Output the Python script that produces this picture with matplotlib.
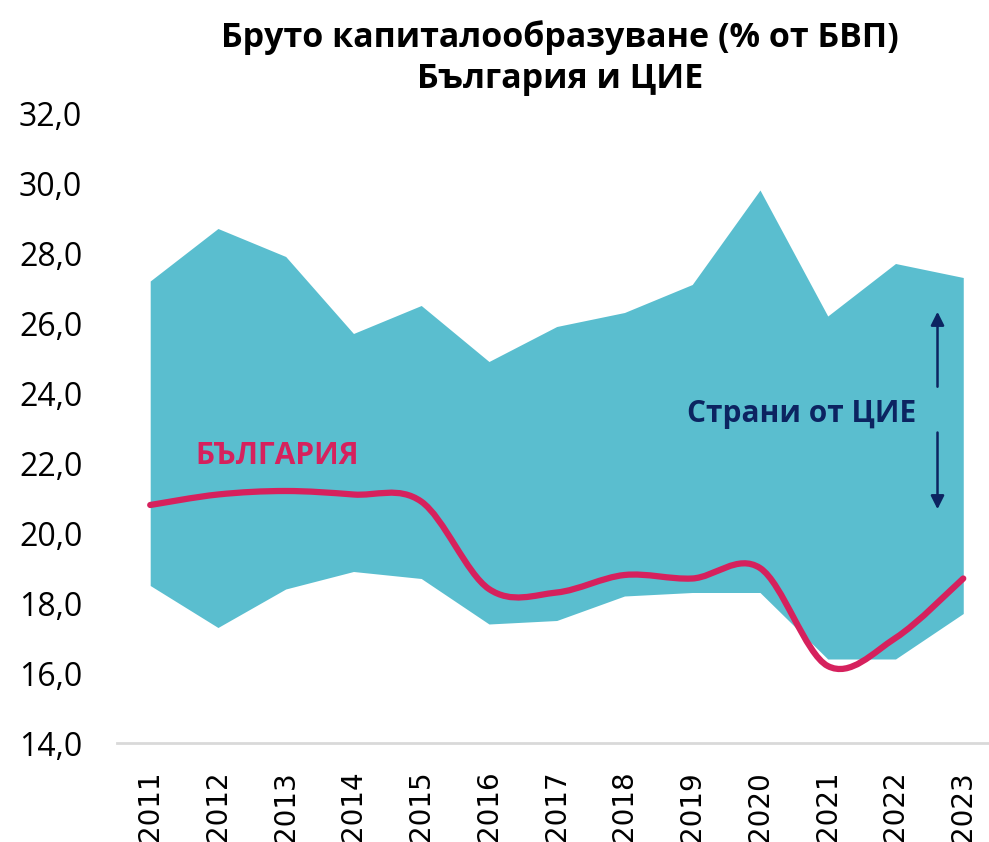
import matplotlib as mpl
mpl.use('Agg')
import matplotlib.pyplot as plt
from matplotlib.path import Path
from matplotlib.patches import PathPatch

# data
years = [2011, 2012, 2013, 2014, 2015, 2016, 2017, 2018, 2019, 2020, 2021, 2022, 2023]
cee_max = [27.2, 28.7, 27.9, 25.7, 26.5, 24.9, 25.9, 26.3, 27.1, 29.8, 26.2, 27.7, 27.3]
cee_min = [18.5, 17.3, 18.4, 18.9, 18.7, 17.4, 17.5, 18.2, 18.3, 18.3, 16.4, 16.4, 17.7]
bulgaria = [20.8, 21.1, 21.2, 21.1, 20.9, 18.4, 18.3, 18.8, 18.7, 19.0, 16.2, 17.0, 18.7]
yticks = [14, 16, 18, 20, 22, 24, 26, 28, 30, 32]

fill_col = '#5abecf'
line_col = '#d6215d'
navy = '#0c2461'

fig = plt.figure(figsize=(9.89, 8.42), dpi=100)
ax = fig.add_axes([117 / 989, 1 - 743 / 842, 1 - 117 / 989, (743 - 113) / 842])

ax.fill_between(years, cee_min, cee_max, color=fill_col, lw=0)

# smoothed line like excel (bezier through the points)
n = len(years)
verts = [(years[0], bulgaria[0])]
codes = [Path.MOVETO]
for i in range(n - 1):
    p0 = (years[max(i - 1, 0)], bulgaria[max(i - 1, 0)])
    p1 = (years[i], bulgaria[i])
    p2 = (years[i + 1], bulgaria[i + 1])
    p3 = (years[min(i + 2, n - 1)], bulgaria[min(i + 2, n - 1)])
    c1 = (p1[0] + (p2[0] - p0[0]) / 6, p1[1] + (p2[1] - p0[1]) / 6)
    c2 = (p2[0] - (p3[0] - p1[0]) / 6, p2[1] - (p3[1] - p1[1]) / 6)
    verts += [c1, c2, p2]
    codes += [Path.CURVE4] * 3
ax.add_patch(PathPatch(Path(verts, codes), fill=False, edgecolor=line_col, lw=4.5,
                       capstyle='round', joinstyle='round'))

ax.set_xlim(2010.51, 2023.38)
ax.set_ylim(14, 32)
ax.set_yticks(yticks)
ax.set_yticklabels([f'{v:.1f}'.replace('.', ',') for v in yticks],
                   fontfamily='Open Sans', fontsize=23)
ax.set_xticks(years)
ax.set_xticklabels([str(y) for y in years], rotation=90, fontfamily='DejaVu Sans',
                   fontsize=20, va='top')
ax.tick_params(axis='y', length=0, pad=25)
ax.tick_params(axis='x', length=0, pad=20)
for s in ['left', 'right', 'top']:
    ax.spines[s].set_visible(False)
ax.spines['bottom'].set_color('#d9d9d9')
ax.spines['bottom'].set_linewidth(2)
ax.patch.set_alpha(0)

fig.text(560 / 989, 1 - 58 / 842, 'Бруто капиталообразуване (% от БВП)\nБългария и ЦИЕ',
         ha='center', va='center', fontfamily='Open Sans', fontweight='bold',
         fontsize=24.5, linespacing=1.3)

ax.text(2012.87, 22.2, 'БЪЛГАРИЯ', color=line_col, fontfamily='Open Sans',
        fontweight='bold', fontsize=21.5, ha='center', va='center')
ax.text(2020.62, 23.17, 'Страни от ЦИЕ', color=navy, fontfamily='Open Sans',
        fontweight='bold', fontsize=21.5, ha='center', va='baseline')
ax.annotate('', xy=(2022.62, 26.4), xytext=(2022.62, 24.1),
            arrowprops=dict(arrowstyle='-|>', color=navy, lw=1.8, mutation_scale=20))
ax.annotate('', xy=(2022.62, 20.6), xytext=(2022.62, 22.95),
            arrowprops=dict(arrowstyle='-|>', color=navy, lw=1.8, mutation_scale=20))

plt.savefig('out.png', dpi=100)
